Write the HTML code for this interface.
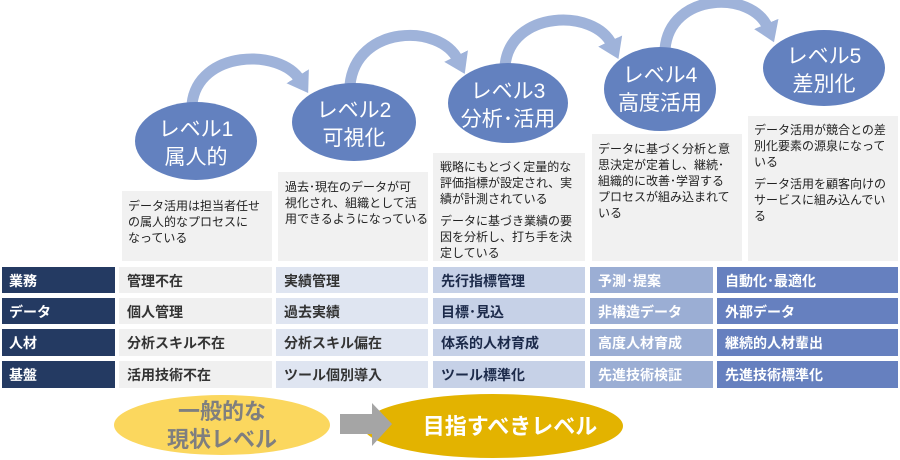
<!DOCTYPE html>
<html><head><meta charset="utf-8"><style>
body{margin:0;background:#fff}
svg{display:block}
text{font-family:"Liberation Sans","Noto Sans CJK JP",sans-serif}
.d{font-size:12px;fill:#222}
.r{font-size:14px;font-weight:bold}
</style></head><body>
<svg width="900" height="460" viewBox="0 0 900 460">
<defs>
<marker id="ah" markerWidth="2.4" markerHeight="2.4" refX="0.4" refY="1.2" orient="auto" markerUnits="strokeWidth">
<path d="M0,0 L1.8,1.2 L0,2.4 Z" fill="#9fb3da"/></marker>
</defs>
<g fill="none" stroke="#9fb3da" stroke-width="11">
<path d="M192,104 C198,50 280,48 300,80" marker-end="url(#ah)"/>
<path d="M350,85 C356,25 440,23 458,60" marker-end="url(#ah)"/>
<path d="M505,66 C510,10 595,8 612,45" marker-end="url(#ah)"/>
<path d="M665,49 C670,-8 752,-10 768,28" marker-end="url(#ah)"/>
</g>
<g fill="#f1f1f1">
<rect x="122" y="191" width="150" height="70"/>
<rect x="278" y="172" width="150" height="89"/>
<rect x="433" y="153" width="152" height="108"/>
<rect x="592" y="134" width="150" height="127"/>
<rect x="748" y="116" width="150" height="145"/>
</g>
<g fill="#6381bf">
<ellipse cx="196" cy="141" rx="61" ry="39"/>
<ellipse cx="354" cy="122" rx="62" ry="39"/>
<ellipse cx="508" cy="103" rx="60" ry="40"/>
<ellipse cx="660" cy="89" rx="56" ry="42"/>
<ellipse cx="824" cy="68" rx="61" ry="38"/>
</g>
<g fill="#fff" font-size="21" text-anchor="middle">
<text x="196" y="136">レベル1</text><text x="196" y="164">属人的</text>
<text x="354" y="117">レベル2</text><text x="354" y="145">可視化</text>
<text x="508" y="98">レベル3</text><text x="508" y="126">分析･活用</text>
<text x="660" y="82">レベル4</text><text x="660" y="110">高度活用</text>
<text x="824" y="63">レベル5</text><text x="824" y="91">差別化</text>
</g>
<text class="d"><tspan x="128" y="210">データ活用は担当者任せ</tspan><tspan x="128" y="226">の属人的なプロセスに</tspan><tspan x="128" y="242">なっている</tspan></text>
<text class="d"><tspan x="285" y="191">過去･現在のデータが可</tspan><tspan x="285" y="207">視化され、組織として活</tspan><tspan x="285" y="223">用できるようになっている</tspan></text>
<text class="d"><tspan x="440" y="171">戦略にもとづく定量的な</tspan><tspan x="440" y="187">評価指標が設定され、実</tspan><tspan x="440" y="203">績が計測されている</tspan><tspan x="440" y="225">データに基づき業績の要</tspan><tspan x="440" y="241">因を分析し、打ち手を決</tspan><tspan x="440" y="257">定している</tspan></text>
<text class="d"><tspan x="598" y="153">データに基づく分析と意</tspan><tspan x="598" y="169">思決定が定着し、継続･</tspan><tspan x="598" y="185">組織的に改善･学習する</tspan><tspan x="598" y="201">プロセスが組み込まれて</tspan><tspan x="598" y="217">いる</tspan></text>
<text class="d"><tspan x="754" y="134">データ活用が競合との差</tspan><tspan x="754" y="150">別化要素の源泉になって</tspan><tspan x="754" y="166">いる</tspan><tspan x="754" y="188">データ活用を顧客向けの</tspan><tspan x="754" y="204">サービスに組み込んでい</tspan><tspan x="754" y="220">る</tspan></text>
<g>
<rect x="2" y="267" width="113" height="26" fill="#243a62"/>
<rect x="2" y="298" width="113" height="26" fill="#243a62"/>
<rect x="2" y="329" width="113" height="27" fill="#243a62"/>
<rect x="2" y="361" width="113" height="27" fill="#243a62"/>
<g fill="#f0f0f0"><rect x="119" y="267" width="153" height="26"/><rect x="119" y="298" width="153" height="26"/><rect x="119" y="329" width="153" height="27"/><rect x="119" y="361" width="153" height="27"/></g>
<g fill="#dfe5f1"><rect x="276" y="267" width="152" height="26"/><rect x="276" y="298" width="152" height="26"/><rect x="276" y="329" width="152" height="27"/><rect x="276" y="361" width="152" height="27"/></g>
<g fill="#c6d1e7"><rect x="433" y="267" width="152" height="26"/><rect x="433" y="298" width="152" height="26"/><rect x="433" y="329" width="152" height="27"/><rect x="433" y="361" width="152" height="27"/></g>
<g fill="#9baed4"><rect x="590" y="267" width="123" height="26"/><rect x="590" y="298" width="123" height="26"/><rect x="590" y="329" width="123" height="27"/><rect x="590" y="361" width="123" height="27"/></g>
<g fill="#6680bf"><rect x="717" y="267" width="181" height="26"/><rect x="717" y="298" width="181" height="26"/><rect x="717" y="329" width="181" height="27"/><rect x="717" y="361" width="181" height="27"/></g>
</g>
<g class="r" fill="#fff"><text x="9" y="286">業務</text><text x="9" y="317">データ</text><text x="9" y="348">人材</text><text x="9" y="380">基盤</text></g>
<g class="r" fill="#333"><text x="127" y="286">管理不在</text><text x="127" y="317">個人管理</text><text x="127" y="348">分析スキル不在</text><text x="127" y="380">活用技術不在</text></g>
<g class="r" fill="#333"><text x="284" y="286">実績管理</text><text x="284" y="317">過去実績</text><text x="284" y="348">分析スキル偏在</text><text x="284" y="380">ツール個別導入</text></g>
<g class="r" fill="#1c2a4a"><text x="441" y="286">先行指標管理</text><text x="441" y="317">目標･見込</text><text x="441" y="348">体系的人材育成</text><text x="441" y="380">ツール標準化</text></g>
<g class="r" fill="#fff"><text x="598" y="286">予測･提案</text><text x="598" y="317">非構造データ</text><text x="598" y="348">高度人材育成</text><text x="598" y="380">先進技術検証</text></g>
<g class="r" fill="#fff"><text x="725" y="286">自動化･最適化</text><text x="725" y="317">外部データ</text><text x="725" y="348">継続的人材輩出</text><text x="725" y="380">先進技術標準化</text></g>
<ellipse cx="222" cy="425" rx="108" ry="30" fill="#fbd75e"/>
<ellipse cx="493" cy="426" rx="130" ry="32" fill="#e3b300"/>
<path d="M340,414 L372,414 L372,403 L392,424 L372,446 L372,434 L340,434 Z" fill="#a5a5a5"/>
<g font-size="22" font-weight="bold" text-anchor="middle" fill="#7f7f7f"><text x="222" y="419">一般的な</text><text x="222" y="447">現状レベル</text></g>
<text x="510" y="434" font-size="22" font-weight="bold" text-anchor="middle" fill="#fff">目指すべきレベル</text>
</svg>
</body></html>
